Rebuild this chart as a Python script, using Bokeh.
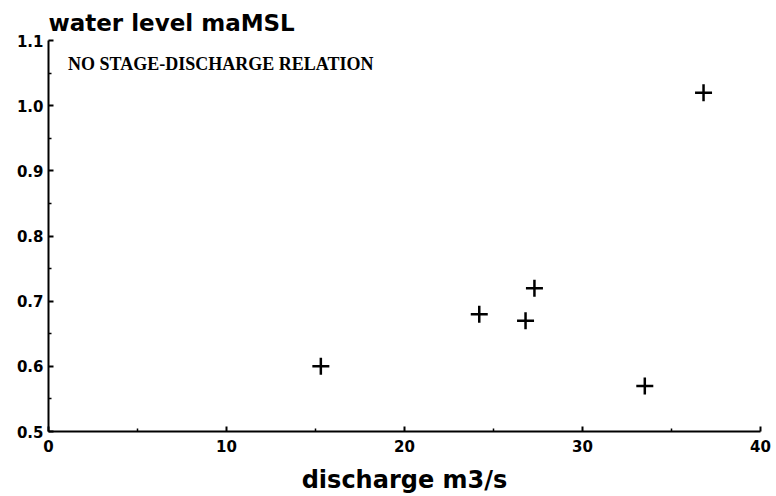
from bokeh.plotting import figure
from bokeh.models import Range1d, FixedTicker, PrintfTickFormatter, Label, Title
from bokeh.embed import file_html
from bokeh.resources import INLINE

# Gauging measurements: discharge (m3/s) against water level (m above MSL)
discharge = [15.3, 24.2, 26.8, 27.3, 33.5, 36.8]
water_level = [0.60, 0.68, 0.67, 0.72, 0.57, 1.02]

x_ticks = [0, 10, 20, 30, 40]
x_minor = [5, 15, 25, 35]
y_ticks = [0.5, 0.6, 0.7, 0.8, 0.9, 1.0, 1.1]
y_minor = [0.55, 0.65, 0.75, 0.85, 0.95, 1.05]

title_text = "water level maMSL"
xlabel_text = "discharge m3/s"
note_text = "NO STAGE-DISCHARGE RELATION"

p = figure(width=776, height=496, output_backend="svg", toolbar_location=None,
           x_range=Range1d(0, 40), y_range=Range1d(0.5, 1.1),
           min_border_left=48, min_border_right=16,
           min_border_top=40, min_border_bottom=65)
p.outline_line_color = None
p.grid.visible = False
p.background_fill_color = "white"
p.border_fill_color = "white"

p.xaxis.ticker = FixedTicker(ticks=x_ticks, minor_ticks=x_minor)
p.yaxis.ticker = FixedTicker(ticks=y_ticks, minor_ticks=y_minor)
p.yaxis.formatter = PrintfTickFormatter(format="%.1f")

for ax in (p.xaxis, p.yaxis):
    ax.axis_line_width = 2
    ax.axis_line_color = "black"
    ax.major_tick_in = 5
    ax.major_tick_out = 0
    ax.minor_tick_in = 3
    ax.minor_tick_out = 0
    ax.major_tick_line_width = 2
    ax.minor_tick_line_width = 1.5
    ax.major_label_text_font = "DejaVu Sans"
    ax.major_label_text_font_style = "bold"
    ax.major_label_text_font_size = "15px"
    ax.major_label_text_color = "black"
p.xaxis.major_label_standoff = 8
p.yaxis.major_label_standoff = 5

# x-axis caption, centred under the axis
p.xaxis.axis_label = xlabel_text
p.xaxis.axis_label_text_font = "DejaVu Sans"
p.xaxis.axis_label_text_font_style = "bold"
p.xaxis.axis_label_text_font_size = "24px"
p.xaxis.axis_label_text_color = "black"
p.xaxis.axis_label_standoff = 11

# y-axis caption sits above the frame, flush with its left edge
p.add_layout(Title(text=title_text, align="left", text_font="DejaVu Sans",
                   text_font_style="bold", text_font_size="23px",
                   text_color="black", standoff=9, offset=0), "above")

p.scatter(discharge, water_level, marker="cross", size=17, line_width=2.5,
          line_color="black")

p.add_layout(Label(x=1.1, y=1.064, text=note_text,
                   text_font="Liberation Serif", text_font_style="bold",
                   text_font_size="18px", text_color="black",
                   text_baseline="alphabetic"))

open("out.html", "w").write(file_html(p, INLINE))
